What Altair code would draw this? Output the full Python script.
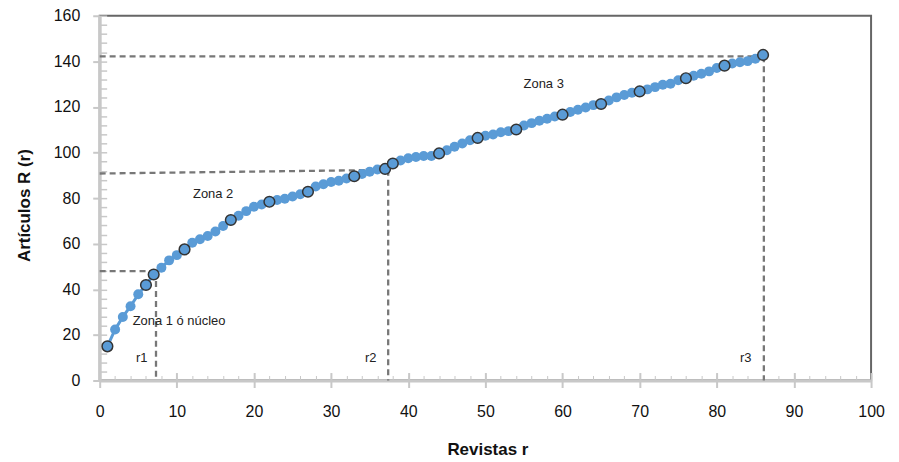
import altair as alt
import pandas as pd

# ---- data ----
journals = list(range(1, 87))
articles = [15.0, 22.4, 27.9, 32.6, 37.8, 41.9, 46.5, 49.5, 52.7, 55.0,
            57.5, 60.4, 62.0, 63.4, 65.4, 67.8, 70.4, 72.3, 74.3, 76.2,
            77.2, 78.4, 79.2, 79.7, 80.7, 81.7, 82.8, 85.1, 86.1, 87.1,
            87.6, 88.6, 89.6, 90.6, 91.6, 92.6, 92.8, 95.2, 96.5, 97.5,
            98.0, 98.5, 98.5, 99.6, 101.0, 102.5, 104.0, 105.4, 106.4, 107.4,
            107.9, 108.9, 109.4, 110.1, 111.9, 112.9, 113.9, 114.8, 115.8, 116.6,
            117.8, 118.8, 119.8, 120.8, 121.3, 122.8, 124.2, 125.2, 126.2, 126.8,
            127.7, 128.7, 129.7, 130.2, 131.7, 132.6, 133.7, 134.6, 135.6, 137.1,
            138.1, 139.1, 139.6, 140.1, 141.1, 142.8]
highlighted = [1, 6, 7, 11, 17, 22, 27, 33, 37, 38, 44, 49, 54, 60, 65, 70, 76, 81, 86]

seg_x = [0, 7.3, 0, 37.4, 0, 86.1]
seg_y = [48.0, 48.0, 90.8, 92.4, 142.2, 142.2]
seg_x2 = [7.3, 7.3, 37.4, 37.4, 86.1, 86.1]
seg_y2 = [48.0, 0, 92.4, 0, 142.2, 0]

label_text = ["Zona 1 ó núcleo", "Zona 2", "Zona 3", "r1", "r2", "r3"]
label_x = [4.27, 12.1, 54.95, 4.7, 34.4, 83.0]
label_y = [26.2, 81.8, 130.1, 9.8, 9.8, 9.8]

x_major = list(range(0, 101, 10))
x_minor = list(range(0, 101, 2))
y_major = list(range(0, 161, 20))
y_minor = list(range(0, 161, 4))

# ---- tables ----
df = pd.DataFrame({"x": journals, "y": articles})
df_hi = df[df["x"].isin(highlighted)]
df_seg = pd.DataFrame({"x": seg_x, "y": seg_y, "x2": seg_x2, "y2": seg_y2})
df_lab = pd.DataFrame({"t": label_text, "x": label_x, "y": label_y})

FONT = "Liberation Sans"
BLUE = "#5a9bd6"
AX = "#c8c8c8"

xs = alt.Scale(domain=[0, 100], nice=False)
ys = alt.Scale(domain=[0, 160], nice=False)

x_axis_main = alt.Axis(orient="bottom", values=x_major, tickSize=7, tickWidth=2,
                       tickColor=AX, domainColor=AX, domainWidth=3, grid=False,
                       labelFont=FONT, labelFontSize=16, labelColor="#111",
                       labelPadding=24, labelBaseline="middle", labelFlush=False,
                       title="Revistas r", titleFont=FONT, titleFontSize=17,
                       titleFontWeight="bold", titleColor="#111",
                       titleX=389, titleY=69, titleAlign="center",
                       titleBaseline="middle")
x_axis_major_in = alt.Axis(orient="bottom", values=x_major, tickSize=8, tickWidth=2,
                           tickColor=AX, offset=-8, domain=False, labels=False,
                           grid=False, title="")
x_axis_minor_in = alt.Axis(orient="bottom", values=x_minor, tickSize=5, tickWidth=1,
                           tickColor=AX, offset=-5, domain=False, labels=False,
                           grid=False, title="")

y_axis_main = alt.Axis(orient="left", values=y_major, tickSize=7, tickWidth=2,
                       tickColor=AX, domainColor=AX, domainWidth=3, grid=False,
                       labelFont=FONT, labelFontSize=16, labelColor="#111",
                       labelPadding=13, labelFlush=False,
                       title="Artículos R (r)", titleFont=FONT, titleFontSize=17,
                       titleFontWeight="bold", titleColor="#111",
                       titleX=-75, titleY=190, titleAngle=270, titleAlign="center",
                       titleBaseline="middle")
y_axis_minor_in = alt.Axis(orient="left", values=y_minor, tickSize=7, tickWidth=1.5,
                           tickColor=AX, offset=-7, domain=False, labels=False,
                           grid=False, title="")

rules = alt.Chart(df_seg).mark_rule(color="#777777", strokeWidth=2.3,
                                    strokeDash=[6, 4]).encode(
    x=alt.X("x:Q", scale=xs, axis=x_axis_minor_in),
    y=alt.Y("y:Q", scale=ys, axis=None),
    x2="x2:Q", y2="y2:Q")

line = alt.Chart(df).mark_line(color=BLUE, strokeWidth=3).encode(
    x=alt.X("x:Q", scale=xs, axis=x_axis_major_in),
    y=alt.Y("y:Q", scale=ys, axis=y_axis_minor_in))

pts = alt.Chart(df).mark_circle(color=BLUE, opacity=1, size=100).encode(
    x=alt.X("x:Q", scale=xs, axis=x_axis_main),
    y=alt.Y("y:Q", scale=ys, axis=y_axis_main))

hi = alt.Chart(df_hi).mark_point(filled=True, fill=BLUE, stroke="#333333",
                                 strokeWidth=1.5, opacity=1, size=115).encode(
    x=alt.X("x:Q", scale=xs, axis=None),
    y=alt.Y("y:Q", scale=ys, axis=None))

labels = alt.Chart(df_lab).mark_text(font=FONT, fontSize=13, color="#222",
                                     align="left", baseline="middle").encode(
    x=alt.X("x:Q", scale=xs, axis=None),
    y=alt.Y("y:Q", scale=ys, axis=None),
    text="t:N")

chart = alt.layer(rules, line, pts, hi, labels).resolve_axis(
    x="independent", y="independent"
).properties(
    width=774, height=366,
    autosize=alt.AutoSizeParams(type="none"),
    padding={"left": 92, "top": 7, "right": 20, "bottom": 86},
).configure_view(stroke="#666666", strokeWidth=2)

chart.save("out.html", embed_options={"renderer": "svg", "actions": False})
